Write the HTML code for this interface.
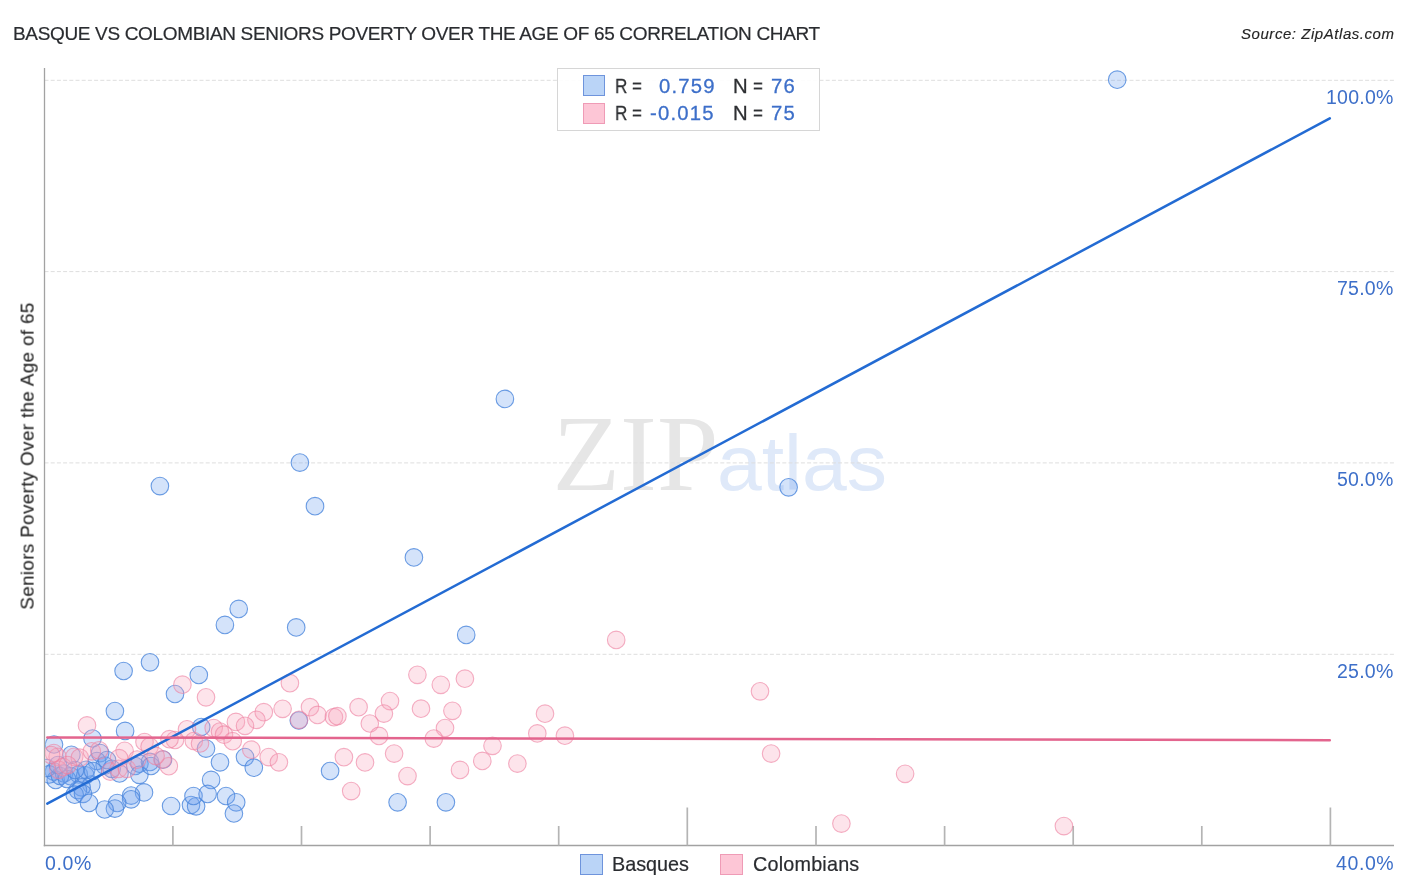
<!DOCTYPE html>
<html><head><meta charset="utf-8"><title>Basque vs Colombian Seniors Poverty Over the Age of 65 Correlation Chart</title>
<style>
html,body{margin:0;padding:0;background:#fff;}
body{width:1406px;height:892px;position:relative;overflow:hidden;font-family:"Liberation Sans",sans-serif;}
.t{position:absolute;white-space:nowrap;line-height:1;will-change:transform;}
#title{left:12.5px;top:23.8px;font-size:19px;color:#2a2c30;letter-spacing:-0.34px;-webkit-text-stroke:0.2px #2a2c30;}
#src{right:11.5px;top:25.5px;font-size:15px;font-style:italic;color:#262626;letter-spacing:0.55px;-webkit-text-stroke:0.15px #262626;}
.yl{color:#3d6fc9;font-size:19.5px;right:12.2px;letter-spacing:0.25px;}
.xl{color:#3d6fc9;font-size:19.5px;top:854.2px;letter-spacing:0.6px;}
#ylab{left:27.6px;top:455.6px;font-size:18.8px;letter-spacing:0.38px;color:#262626;-webkit-text-stroke:0.12px #262626;transform:translate(-50%,-50%) rotate(-90deg);transform-origin:center;}
#leg{position:absolute;left:557px;top:67.5px;width:260.5px;height:61px;border:1px solid #d6d6d6;background:rgba(255,255,255,0.9);}
.sw{position:absolute;width:20px;height:19px;border:1px solid;}
.sb{background:#bad4f7;border-color:#6e94dc;}
.sp{background:#fdc6d6;border-color:#ef9bb6;}
.lt{font-size:20.3px;color:#2e3033;-webkit-text-stroke:0.3px #2e3033;}
.lv{font-size:20.3px;color:#3d6fc9;letter-spacing:1.2px;-webkit-text-stroke:0.3px #3d6fc9;}
.sx{transform:scaleX(0.84);transform-origin:left center;}
.bl{font-size:19.8px;color:#2a2c30;top:854.5px;-webkit-text-stroke:0.2px #2a2c30;}
</style></head><body>
<svg width="1406" height="892" viewBox="0 0 1406 892" style="position:absolute;left:0;top:0">
<text x="552.5" y="490.4" font-family="Liberation Serif, serif" font-size="107" fill="#e6e6e6" textLength="166" lengthAdjust="spacingAndGlyphs">ZIP</text>
<text x="717" y="490.4" font-family="Liberation Sans, sans-serif" font-size="78" fill="#dfe9f9" textLength="170" lengthAdjust="spacingAndGlyphs">atlas</text>
<line x1="44.5" y1="80.3" x2="1394" y2="80.3" stroke="#dedede" stroke-width="1" stroke-dasharray="4,2.2"/>
<line x1="44.5" y1="271.6" x2="1394" y2="271.6" stroke="#dedede" stroke-width="1" stroke-dasharray="4,2.2"/>
<line x1="44.5" y1="462.9" x2="1394" y2="462.9" stroke="#dedede" stroke-width="1" stroke-dasharray="4,2.2"/>
<line x1="44.5" y1="654.3" x2="1394" y2="654.3" stroke="#dedede" stroke-width="1" stroke-dasharray="4,2.2"/>
<line x1="44.5" y1="68" x2="44.5" y2="846.2" stroke="#a2a2a2" stroke-width="1.3"/>
<line x1="43.7" y1="845.5" x2="1394" y2="845.5" stroke="#a2a2a2" stroke-width="1.4"/>
<line x1="172.9" y1="826" x2="172.9" y2="845.5" stroke="#b4b4b4" stroke-width="1.7"/>
<line x1="301.5" y1="826" x2="301.5" y2="845.5" stroke="#b4b4b4" stroke-width="1.7"/>
<line x1="430.1" y1="826" x2="430.1" y2="845.5" stroke="#b4b4b4" stroke-width="1.7"/>
<line x1="558.7" y1="826" x2="558.7" y2="845.5" stroke="#b4b4b4" stroke-width="1.7"/>
<line x1="687.3" y1="807.5" x2="687.3" y2="845.5" stroke="#b4b4b4" stroke-width="1.7"/>
<line x1="816.0" y1="826" x2="816.0" y2="845.5" stroke="#b4b4b4" stroke-width="1.7"/>
<line x1="944.6" y1="826" x2="944.6" y2="845.5" stroke="#b4b4b4" stroke-width="1.7"/>
<line x1="1073.2" y1="826" x2="1073.2" y2="845.5" stroke="#b4b4b4" stroke-width="1.7"/>
<line x1="1201.8" y1="826" x2="1201.8" y2="845.5" stroke="#b4b4b4" stroke-width="1.7"/>
<line x1="1330.4" y1="807.5" x2="1330.4" y2="845.5" stroke="#b4b4b4" stroke-width="1.7"/>
<defs><clipPath id="c"><rect x="45.3" y="60" width="1349.5" height="784.7"/></clipPath></defs>
<g clip-path="url(#c)">
<circle cx="1117.2" cy="79.7" r="8.8" fill="#6fa3ee" fill-opacity="0.3" stroke="#4a86dc" stroke-opacity="0.8" stroke-width="1.1"/>
<circle cx="504.9" cy="398.9" r="8.8" fill="#6fa3ee" fill-opacity="0.3" stroke="#4a86dc" stroke-opacity="0.8" stroke-width="1.1"/>
<circle cx="299.9" cy="462.6" r="8.8" fill="#6fa3ee" fill-opacity="0.3" stroke="#4a86dc" stroke-opacity="0.8" stroke-width="1.1"/>
<circle cx="159.9" cy="486.1" r="8.8" fill="#6fa3ee" fill-opacity="0.3" stroke="#4a86dc" stroke-opacity="0.8" stroke-width="1.1"/>
<circle cx="315" cy="506.2" r="8.8" fill="#6fa3ee" fill-opacity="0.3" stroke="#4a86dc" stroke-opacity="0.8" stroke-width="1.1"/>
<circle cx="413.9" cy="557.4" r="8.8" fill="#6fa3ee" fill-opacity="0.3" stroke="#4a86dc" stroke-opacity="0.8" stroke-width="1.1"/>
<circle cx="788.6" cy="487.3" r="8.8" fill="#6fa3ee" fill-opacity="0.3" stroke="#4a86dc" stroke-opacity="0.8" stroke-width="1.1"/>
<circle cx="238.7" cy="608.9" r="8.8" fill="#6fa3ee" fill-opacity="0.3" stroke="#4a86dc" stroke-opacity="0.8" stroke-width="1.1"/>
<circle cx="224.9" cy="624.9" r="8.8" fill="#6fa3ee" fill-opacity="0.3" stroke="#4a86dc" stroke-opacity="0.8" stroke-width="1.1"/>
<circle cx="296.2" cy="627.4" r="8.8" fill="#6fa3ee" fill-opacity="0.3" stroke="#4a86dc" stroke-opacity="0.8" stroke-width="1.1"/>
<circle cx="466.2" cy="634.9" r="8.8" fill="#6fa3ee" fill-opacity="0.3" stroke="#4a86dc" stroke-opacity="0.8" stroke-width="1.1"/>
<circle cx="150" cy="662.3" r="8.8" fill="#6fa3ee" fill-opacity="0.3" stroke="#4a86dc" stroke-opacity="0.8" stroke-width="1.1"/>
<circle cx="123.6" cy="671" r="8.8" fill="#6fa3ee" fill-opacity="0.3" stroke="#4a86dc" stroke-opacity="0.8" stroke-width="1.1"/>
<circle cx="198.8" cy="675" r="8.8" fill="#6fa3ee" fill-opacity="0.3" stroke="#4a86dc" stroke-opacity="0.8" stroke-width="1.1"/>
<circle cx="175" cy="694" r="8.8" fill="#6fa3ee" fill-opacity="0.3" stroke="#4a86dc" stroke-opacity="0.8" stroke-width="1.1"/>
<circle cx="114.9" cy="711.1" r="8.8" fill="#6fa3ee" fill-opacity="0.3" stroke="#4a86dc" stroke-opacity="0.8" stroke-width="1.1"/>
<circle cx="125.1" cy="730.9" r="8.8" fill="#6fa3ee" fill-opacity="0.3" stroke="#4a86dc" stroke-opacity="0.8" stroke-width="1.1"/>
<circle cx="92.5" cy="738.5" r="8.8" fill="#6fa3ee" fill-opacity="0.3" stroke="#4a86dc" stroke-opacity="0.8" stroke-width="1.1"/>
<circle cx="54" cy="744.5" r="8.8" fill="#6fa3ee" fill-opacity="0.3" stroke="#4a86dc" stroke-opacity="0.8" stroke-width="1.1"/>
<circle cx="201.2" cy="727" r="8.8" fill="#6fa3ee" fill-opacity="0.3" stroke="#4a86dc" stroke-opacity="0.8" stroke-width="1.1"/>
<circle cx="298.8" cy="720.5" r="8.8" fill="#6fa3ee" fill-opacity="0.3" stroke="#4a86dc" stroke-opacity="0.8" stroke-width="1.1"/>
<circle cx="206" cy="748.6" r="8.8" fill="#6fa3ee" fill-opacity="0.3" stroke="#4a86dc" stroke-opacity="0.8" stroke-width="1.1"/>
<circle cx="220" cy="762.3" r="8.8" fill="#6fa3ee" fill-opacity="0.3" stroke="#4a86dc" stroke-opacity="0.8" stroke-width="1.1"/>
<circle cx="245" cy="757.1" r="8.8" fill="#6fa3ee" fill-opacity="0.3" stroke="#4a86dc" stroke-opacity="0.8" stroke-width="1.1"/>
<circle cx="253.8" cy="767.7" r="8.8" fill="#6fa3ee" fill-opacity="0.3" stroke="#4a86dc" stroke-opacity="0.8" stroke-width="1.1"/>
<circle cx="330.1" cy="771" r="8.8" fill="#6fa3ee" fill-opacity="0.3" stroke="#4a86dc" stroke-opacity="0.8" stroke-width="1.1"/>
<circle cx="211.1" cy="779.9" r="8.8" fill="#6fa3ee" fill-opacity="0.3" stroke="#4a86dc" stroke-opacity="0.8" stroke-width="1.1"/>
<circle cx="397.6" cy="802.3" r="8.8" fill="#6fa3ee" fill-opacity="0.3" stroke="#4a86dc" stroke-opacity="0.8" stroke-width="1.1"/>
<circle cx="445.9" cy="802.3" r="8.8" fill="#6fa3ee" fill-opacity="0.3" stroke="#4a86dc" stroke-opacity="0.8" stroke-width="1.1"/>
<circle cx="71.4" cy="754.8" r="8.8" fill="#6fa3ee" fill-opacity="0.3" stroke="#4a86dc" stroke-opacity="0.8" stroke-width="1.1"/>
<circle cx="100.1" cy="753.1" r="8.8" fill="#6fa3ee" fill-opacity="0.3" stroke="#4a86dc" stroke-opacity="0.8" stroke-width="1.1"/>
<circle cx="96.9" cy="761" r="8.8" fill="#6fa3ee" fill-opacity="0.3" stroke="#4a86dc" stroke-opacity="0.8" stroke-width="1.1"/>
<circle cx="104.7" cy="765.6" r="8.8" fill="#6fa3ee" fill-opacity="0.3" stroke="#4a86dc" stroke-opacity="0.8" stroke-width="1.1"/>
<circle cx="111.7" cy="768.8" r="8.8" fill="#6fa3ee" fill-opacity="0.3" stroke="#4a86dc" stroke-opacity="0.8" stroke-width="1.1"/>
<circle cx="135.2" cy="766" r="8.8" fill="#6fa3ee" fill-opacity="0.3" stroke="#4a86dc" stroke-opacity="0.8" stroke-width="1.1"/>
<circle cx="139.4" cy="763.7" r="8.8" fill="#6fa3ee" fill-opacity="0.3" stroke="#4a86dc" stroke-opacity="0.8" stroke-width="1.1"/>
<circle cx="139.4" cy="774.8" r="8.8" fill="#6fa3ee" fill-opacity="0.3" stroke="#4a86dc" stroke-opacity="0.8" stroke-width="1.1"/>
<circle cx="150" cy="761.9" r="8.8" fill="#6fa3ee" fill-opacity="0.3" stroke="#4a86dc" stroke-opacity="0.8" stroke-width="1.1"/>
<circle cx="151" cy="766" r="8.8" fill="#6fa3ee" fill-opacity="0.3" stroke="#4a86dc" stroke-opacity="0.8" stroke-width="1.1"/>
<circle cx="163" cy="759.6" r="8.8" fill="#6fa3ee" fill-opacity="0.3" stroke="#4a86dc" stroke-opacity="0.8" stroke-width="1.1"/>
<circle cx="119.5" cy="773.5" r="8.8" fill="#6fa3ee" fill-opacity="0.3" stroke="#4a86dc" stroke-opacity="0.8" stroke-width="1.1"/>
<circle cx="53.9" cy="771.6" r="8.8" fill="#6fa3ee" fill-opacity="0.3" stroke="#4a86dc" stroke-opacity="0.8" stroke-width="1.1"/>
<circle cx="55.7" cy="779.9" r="8.8" fill="#6fa3ee" fill-opacity="0.3" stroke="#4a86dc" stroke-opacity="0.8" stroke-width="1.1"/>
<circle cx="49.2" cy="774.4" r="8.8" fill="#6fa3ee" fill-opacity="0.3" stroke="#4a86dc" stroke-opacity="0.8" stroke-width="1.1"/>
<circle cx="64" cy="773.5" r="8.8" fill="#6fa3ee" fill-opacity="0.3" stroke="#4a86dc" stroke-opacity="0.8" stroke-width="1.1"/>
<circle cx="70.5" cy="776.2" r="8.8" fill="#6fa3ee" fill-opacity="0.3" stroke="#4a86dc" stroke-opacity="0.8" stroke-width="1.1"/>
<circle cx="78.8" cy="774.4" r="8.8" fill="#6fa3ee" fill-opacity="0.3" stroke="#4a86dc" stroke-opacity="0.8" stroke-width="1.1"/>
<circle cx="85.3" cy="775.3" r="8.8" fill="#6fa3ee" fill-opacity="0.3" stroke="#4a86dc" stroke-opacity="0.8" stroke-width="1.1"/>
<circle cx="86.2" cy="769.8" r="8.8" fill="#6fa3ee" fill-opacity="0.3" stroke="#4a86dc" stroke-opacity="0.8" stroke-width="1.1"/>
<circle cx="91.3" cy="784.6" r="8.8" fill="#6fa3ee" fill-opacity="0.3" stroke="#4a86dc" stroke-opacity="0.8" stroke-width="1.1"/>
<circle cx="81.6" cy="787.3" r="8.8" fill="#6fa3ee" fill-opacity="0.3" stroke="#4a86dc" stroke-opacity="0.8" stroke-width="1.1"/>
<circle cx="77.9" cy="790.1" r="8.8" fill="#6fa3ee" fill-opacity="0.3" stroke="#4a86dc" stroke-opacity="0.8" stroke-width="1.1"/>
<circle cx="74.7" cy="794.7" r="8.8" fill="#6fa3ee" fill-opacity="0.3" stroke="#4a86dc" stroke-opacity="0.8" stroke-width="1.1"/>
<circle cx="83" cy="793.8" r="8.8" fill="#6fa3ee" fill-opacity="0.3" stroke="#4a86dc" stroke-opacity="0.8" stroke-width="1.1"/>
<circle cx="89" cy="803" r="8.8" fill="#6fa3ee" fill-opacity="0.3" stroke="#4a86dc" stroke-opacity="0.8" stroke-width="1.1"/>
<circle cx="144" cy="792.4" r="8.8" fill="#6fa3ee" fill-opacity="0.3" stroke="#4a86dc" stroke-opacity="0.8" stroke-width="1.1"/>
<circle cx="131.1" cy="795.6" r="8.8" fill="#6fa3ee" fill-opacity="0.3" stroke="#4a86dc" stroke-opacity="0.8" stroke-width="1.1"/>
<circle cx="131.1" cy="799.3" r="8.8" fill="#6fa3ee" fill-opacity="0.3" stroke="#4a86dc" stroke-opacity="0.8" stroke-width="1.1"/>
<circle cx="117.2" cy="803" r="8.8" fill="#6fa3ee" fill-opacity="0.3" stroke="#4a86dc" stroke-opacity="0.8" stroke-width="1.1"/>
<circle cx="114.9" cy="808.6" r="8.8" fill="#6fa3ee" fill-opacity="0.3" stroke="#4a86dc" stroke-opacity="0.8" stroke-width="1.1"/>
<circle cx="104.7" cy="809.5" r="8.8" fill="#6fa3ee" fill-opacity="0.3" stroke="#4a86dc" stroke-opacity="0.8" stroke-width="1.1"/>
<circle cx="60" cy="776" r="8.8" fill="#6fa3ee" fill-opacity="0.3" stroke="#4a86dc" stroke-opacity="0.8" stroke-width="1.1"/>
<circle cx="67" cy="779" r="8.8" fill="#6fa3ee" fill-opacity="0.3" stroke="#4a86dc" stroke-opacity="0.8" stroke-width="1.1"/>
<circle cx="47" cy="768" r="8.8" fill="#6fa3ee" fill-opacity="0.3" stroke="#4a86dc" stroke-opacity="0.8" stroke-width="1.1"/>
<circle cx="58" cy="765" r="8.8" fill="#6fa3ee" fill-opacity="0.3" stroke="#4a86dc" stroke-opacity="0.8" stroke-width="1.1"/>
<circle cx="75" cy="770" r="8.8" fill="#6fa3ee" fill-opacity="0.3" stroke="#4a86dc" stroke-opacity="0.8" stroke-width="1.1"/>
<circle cx="93" cy="771" r="8.8" fill="#6fa3ee" fill-opacity="0.3" stroke="#4a86dc" stroke-opacity="0.8" stroke-width="1.1"/>
<circle cx="107" cy="760" r="8.8" fill="#6fa3ee" fill-opacity="0.3" stroke="#4a86dc" stroke-opacity="0.8" stroke-width="1.1"/>
<circle cx="171.1" cy="806" r="8.8" fill="#6fa3ee" fill-opacity="0.3" stroke="#4a86dc" stroke-opacity="0.8" stroke-width="1.1"/>
<circle cx="191" cy="805" r="8.8" fill="#6fa3ee" fill-opacity="0.3" stroke="#4a86dc" stroke-opacity="0.8" stroke-width="1.1"/>
<circle cx="196.1" cy="806.3" r="8.8" fill="#6fa3ee" fill-opacity="0.3" stroke="#4a86dc" stroke-opacity="0.8" stroke-width="1.1"/>
<circle cx="193.5" cy="796" r="8.8" fill="#6fa3ee" fill-opacity="0.3" stroke="#4a86dc" stroke-opacity="0.8" stroke-width="1.1"/>
<circle cx="207.6" cy="793.9" r="8.8" fill="#6fa3ee" fill-opacity="0.3" stroke="#4a86dc" stroke-opacity="0.8" stroke-width="1.1"/>
<circle cx="226" cy="796" r="8.8" fill="#6fa3ee" fill-opacity="0.3" stroke="#4a86dc" stroke-opacity="0.8" stroke-width="1.1"/>
<circle cx="236.2" cy="802.3" r="8.8" fill="#6fa3ee" fill-opacity="0.3" stroke="#4a86dc" stroke-opacity="0.8" stroke-width="1.1"/>
<circle cx="233.9" cy="813.5" r="8.8" fill="#6fa3ee" fill-opacity="0.3" stroke="#4a86dc" stroke-opacity="0.8" stroke-width="1.1"/>
<circle cx="616.2" cy="639.9" r="8.8" fill="#f7a6be" fill-opacity="0.3" stroke="#ee7f9f" stroke-opacity="0.62" stroke-width="1.1"/>
<circle cx="417.4" cy="674.8" r="8.8" fill="#f7a6be" fill-opacity="0.3" stroke="#ee7f9f" stroke-opacity="0.62" stroke-width="1.1"/>
<circle cx="440.8" cy="684.8" r="8.8" fill="#f7a6be" fill-opacity="0.3" stroke="#ee7f9f" stroke-opacity="0.62" stroke-width="1.1"/>
<circle cx="464.9" cy="678.7" r="8.8" fill="#f7a6be" fill-opacity="0.3" stroke="#ee7f9f" stroke-opacity="0.62" stroke-width="1.1"/>
<circle cx="182.4" cy="684.7" r="8.8" fill="#f7a6be" fill-opacity="0.3" stroke="#ee7f9f" stroke-opacity="0.62" stroke-width="1.1"/>
<circle cx="206" cy="697.3" r="8.8" fill="#f7a6be" fill-opacity="0.3" stroke="#ee7f9f" stroke-opacity="0.62" stroke-width="1.1"/>
<circle cx="289.9" cy="683.2" r="8.8" fill="#f7a6be" fill-opacity="0.3" stroke="#ee7f9f" stroke-opacity="0.62" stroke-width="1.1"/>
<circle cx="760" cy="691.3" r="8.8" fill="#f7a6be" fill-opacity="0.3" stroke="#ee7f9f" stroke-opacity="0.62" stroke-width="1.1"/>
<circle cx="771.1" cy="753.6" r="8.8" fill="#f7a6be" fill-opacity="0.3" stroke="#ee7f9f" stroke-opacity="0.62" stroke-width="1.1"/>
<circle cx="905.1" cy="773.8" r="8.8" fill="#f7a6be" fill-opacity="0.3" stroke="#ee7f9f" stroke-opacity="0.62" stroke-width="1.1"/>
<circle cx="841.4" cy="823.6" r="8.8" fill="#f7a6be" fill-opacity="0.3" stroke="#ee7f9f" stroke-opacity="0.62" stroke-width="1.1"/>
<circle cx="1063.9" cy="826.1" r="8.8" fill="#f7a6be" fill-opacity="0.3" stroke="#ee7f9f" stroke-opacity="0.62" stroke-width="1.1"/>
<circle cx="390" cy="701.1" r="8.8" fill="#f7a6be" fill-opacity="0.3" stroke="#ee7f9f" stroke-opacity="0.62" stroke-width="1.1"/>
<circle cx="383.9" cy="713.6" r="8.8" fill="#f7a6be" fill-opacity="0.3" stroke="#ee7f9f" stroke-opacity="0.62" stroke-width="1.1"/>
<circle cx="358.6" cy="707.2" r="8.8" fill="#f7a6be" fill-opacity="0.3" stroke="#ee7f9f" stroke-opacity="0.62" stroke-width="1.1"/>
<circle cx="421" cy="708.7" r="8.8" fill="#f7a6be" fill-opacity="0.3" stroke="#ee7f9f" stroke-opacity="0.62" stroke-width="1.1"/>
<circle cx="452.4" cy="710.8" r="8.8" fill="#f7a6be" fill-opacity="0.3" stroke="#ee7f9f" stroke-opacity="0.62" stroke-width="1.1"/>
<circle cx="445" cy="728" r="8.8" fill="#f7a6be" fill-opacity="0.3" stroke="#ee7f9f" stroke-opacity="0.62" stroke-width="1.1"/>
<circle cx="433.8" cy="738.6" r="8.8" fill="#f7a6be" fill-opacity="0.3" stroke="#ee7f9f" stroke-opacity="0.62" stroke-width="1.1"/>
<circle cx="369.8" cy="723.5" r="8.8" fill="#f7a6be" fill-opacity="0.3" stroke="#ee7f9f" stroke-opacity="0.62" stroke-width="1.1"/>
<circle cx="379" cy="735.9" r="8.8" fill="#f7a6be" fill-opacity="0.3" stroke="#ee7f9f" stroke-opacity="0.62" stroke-width="1.1"/>
<circle cx="310" cy="707.2" r="8.8" fill="#f7a6be" fill-opacity="0.3" stroke="#ee7f9f" stroke-opacity="0.62" stroke-width="1.1"/>
<circle cx="317.5" cy="714.9" r="8.8" fill="#f7a6be" fill-opacity="0.3" stroke="#ee7f9f" stroke-opacity="0.62" stroke-width="1.1"/>
<circle cx="333.9" cy="717.2" r="8.8" fill="#f7a6be" fill-opacity="0.3" stroke="#ee7f9f" stroke-opacity="0.62" stroke-width="1.1"/>
<circle cx="337.4" cy="716.2" r="8.8" fill="#f7a6be" fill-opacity="0.3" stroke="#ee7f9f" stroke-opacity="0.62" stroke-width="1.1"/>
<circle cx="394.1" cy="753.6" r="8.8" fill="#f7a6be" fill-opacity="0.3" stroke="#ee7f9f" stroke-opacity="0.62" stroke-width="1.1"/>
<circle cx="343.9" cy="757.2" r="8.8" fill="#f7a6be" fill-opacity="0.3" stroke="#ee7f9f" stroke-opacity="0.62" stroke-width="1.1"/>
<circle cx="365" cy="762.4" r="8.8" fill="#f7a6be" fill-opacity="0.3" stroke="#ee7f9f" stroke-opacity="0.62" stroke-width="1.1"/>
<circle cx="407.5" cy="776.1" r="8.8" fill="#f7a6be" fill-opacity="0.3" stroke="#ee7f9f" stroke-opacity="0.62" stroke-width="1.1"/>
<circle cx="351.2" cy="791.1" r="8.8" fill="#f7a6be" fill-opacity="0.3" stroke="#ee7f9f" stroke-opacity="0.62" stroke-width="1.1"/>
<circle cx="460" cy="769.9" r="8.8" fill="#f7a6be" fill-opacity="0.3" stroke="#ee7f9f" stroke-opacity="0.62" stroke-width="1.1"/>
<circle cx="545" cy="713.7" r="8.8" fill="#f7a6be" fill-opacity="0.3" stroke="#ee7f9f" stroke-opacity="0.62" stroke-width="1.1"/>
<circle cx="537.3" cy="733.4" r="8.8" fill="#f7a6be" fill-opacity="0.3" stroke="#ee7f9f" stroke-opacity="0.62" stroke-width="1.1"/>
<circle cx="564.9" cy="735.7" r="8.8" fill="#f7a6be" fill-opacity="0.3" stroke="#ee7f9f" stroke-opacity="0.62" stroke-width="1.1"/>
<circle cx="492.5" cy="745.8" r="8.8" fill="#f7a6be" fill-opacity="0.3" stroke="#ee7f9f" stroke-opacity="0.62" stroke-width="1.1"/>
<circle cx="482.3" cy="760.9" r="8.8" fill="#f7a6be" fill-opacity="0.3" stroke="#ee7f9f" stroke-opacity="0.62" stroke-width="1.1"/>
<circle cx="517.4" cy="763.6" r="8.8" fill="#f7a6be" fill-opacity="0.3" stroke="#ee7f9f" stroke-opacity="0.62" stroke-width="1.1"/>
<circle cx="87" cy="725.4" r="8.8" fill="#f7a6be" fill-opacity="0.3" stroke="#ee7f9f" stroke-opacity="0.62" stroke-width="1.1"/>
<circle cx="282.6" cy="708.8" r="8.8" fill="#f7a6be" fill-opacity="0.3" stroke="#ee7f9f" stroke-opacity="0.62" stroke-width="1.1"/>
<circle cx="263.8" cy="712.2" r="8.8" fill="#f7a6be" fill-opacity="0.3" stroke="#ee7f9f" stroke-opacity="0.62" stroke-width="1.1"/>
<circle cx="256.4" cy="719.8" r="8.8" fill="#f7a6be" fill-opacity="0.3" stroke="#ee7f9f" stroke-opacity="0.62" stroke-width="1.1"/>
<circle cx="235.9" cy="721.9" r="8.8" fill="#f7a6be" fill-opacity="0.3" stroke="#ee7f9f" stroke-opacity="0.62" stroke-width="1.1"/>
<circle cx="245" cy="725.8" r="8.8" fill="#f7a6be" fill-opacity="0.3" stroke="#ee7f9f" stroke-opacity="0.62" stroke-width="1.1"/>
<circle cx="299.1" cy="719.8" r="8.8" fill="#f7a6be" fill-opacity="0.3" stroke="#ee7f9f" stroke-opacity="0.62" stroke-width="1.1"/>
<circle cx="187" cy="729.3" r="8.8" fill="#f7a6be" fill-opacity="0.3" stroke="#ee7f9f" stroke-opacity="0.62" stroke-width="1.1"/>
<circle cx="213.7" cy="728.1" r="8.8" fill="#f7a6be" fill-opacity="0.3" stroke="#ee7f9f" stroke-opacity="0.62" stroke-width="1.1"/>
<circle cx="220" cy="731.5" r="8.8" fill="#f7a6be" fill-opacity="0.3" stroke="#ee7f9f" stroke-opacity="0.62" stroke-width="1.1"/>
<circle cx="224" cy="734.7" r="8.8" fill="#f7a6be" fill-opacity="0.3" stroke="#ee7f9f" stroke-opacity="0.62" stroke-width="1.1"/>
<circle cx="175" cy="740" r="8.8" fill="#f7a6be" fill-opacity="0.3" stroke="#ee7f9f" stroke-opacity="0.62" stroke-width="1.1"/>
<circle cx="193.8" cy="741" r="8.8" fill="#f7a6be" fill-opacity="0.3" stroke="#ee7f9f" stroke-opacity="0.62" stroke-width="1.1"/>
<circle cx="200" cy="743.5" r="8.8" fill="#f7a6be" fill-opacity="0.3" stroke="#ee7f9f" stroke-opacity="0.62" stroke-width="1.1"/>
<circle cx="232.7" cy="741.2" r="8.8" fill="#f7a6be" fill-opacity="0.3" stroke="#ee7f9f" stroke-opacity="0.62" stroke-width="1.1"/>
<circle cx="251.3" cy="749.7" r="8.8" fill="#f7a6be" fill-opacity="0.3" stroke="#ee7f9f" stroke-opacity="0.62" stroke-width="1.1"/>
<circle cx="268.7" cy="757.1" r="8.8" fill="#f7a6be" fill-opacity="0.3" stroke="#ee7f9f" stroke-opacity="0.62" stroke-width="1.1"/>
<circle cx="278.9" cy="762.3" r="8.8" fill="#f7a6be" fill-opacity="0.3" stroke="#ee7f9f" stroke-opacity="0.62" stroke-width="1.1"/>
<circle cx="168.8" cy="766.2" r="8.8" fill="#f7a6be" fill-opacity="0.3" stroke="#ee7f9f" stroke-opacity="0.62" stroke-width="1.1"/>
<circle cx="162.5" cy="759.4" r="8.8" fill="#f7a6be" fill-opacity="0.3" stroke="#ee7f9f" stroke-opacity="0.62" stroke-width="1.1"/>
<circle cx="124.6" cy="750.8" r="8.8" fill="#f7a6be" fill-opacity="0.3" stroke="#ee7f9f" stroke-opacity="0.62" stroke-width="1.1"/>
<circle cx="119.1" cy="758.2" r="8.8" fill="#f7a6be" fill-opacity="0.3" stroke="#ee7f9f" stroke-opacity="0.62" stroke-width="1.1"/>
<circle cx="144.5" cy="742" r="8.8" fill="#f7a6be" fill-opacity="0.3" stroke="#ee7f9f" stroke-opacity="0.62" stroke-width="1.1"/>
<circle cx="149.6" cy="746.6" r="8.8" fill="#f7a6be" fill-opacity="0.3" stroke="#ee7f9f" stroke-opacity="0.62" stroke-width="1.1"/>
<circle cx="53.9" cy="753.1" r="8.8" fill="#f7a6be" fill-opacity="0.3" stroke="#ee7f9f" stroke-opacity="0.62" stroke-width="1.1"/>
<circle cx="57.6" cy="756.8" r="8.8" fill="#f7a6be" fill-opacity="0.3" stroke="#ee7f9f" stroke-opacity="0.62" stroke-width="1.1"/>
<circle cx="51.1" cy="755" r="8.8" fill="#f7a6be" fill-opacity="0.3" stroke="#ee7f9f" stroke-opacity="0.62" stroke-width="1.1"/>
<circle cx="74.2" cy="756.8" r="8.8" fill="#f7a6be" fill-opacity="0.3" stroke="#ee7f9f" stroke-opacity="0.62" stroke-width="1.1"/>
<circle cx="79.8" cy="757.7" r="8.8" fill="#f7a6be" fill-opacity="0.3" stroke="#ee7f9f" stroke-opacity="0.62" stroke-width="1.1"/>
<circle cx="91.8" cy="751.3" r="8.8" fill="#f7a6be" fill-opacity="0.3" stroke="#ee7f9f" stroke-opacity="0.62" stroke-width="1.1"/>
<circle cx="99.2" cy="750.3" r="8.8" fill="#f7a6be" fill-opacity="0.3" stroke="#ee7f9f" stroke-opacity="0.62" stroke-width="1.1"/>
<circle cx="63.1" cy="767" r="8.8" fill="#f7a6be" fill-opacity="0.3" stroke="#ee7f9f" stroke-opacity="0.62" stroke-width="1.1"/>
<circle cx="58.5" cy="769.8" r="8.8" fill="#f7a6be" fill-opacity="0.3" stroke="#ee7f9f" stroke-opacity="0.62" stroke-width="1.1"/>
<circle cx="67.7" cy="765.1" r="8.8" fill="#f7a6be" fill-opacity="0.3" stroke="#ee7f9f" stroke-opacity="0.62" stroke-width="1.1"/>
<circle cx="110.3" cy="771.6" r="8.8" fill="#f7a6be" fill-opacity="0.3" stroke="#ee7f9f" stroke-opacity="0.62" stroke-width="1.1"/>
<circle cx="118.6" cy="768.8" r="8.8" fill="#f7a6be" fill-opacity="0.3" stroke="#ee7f9f" stroke-opacity="0.62" stroke-width="1.1"/>
<circle cx="126.9" cy="768.8" r="8.8" fill="#f7a6be" fill-opacity="0.3" stroke="#ee7f9f" stroke-opacity="0.62" stroke-width="1.1"/>
<circle cx="137.1" cy="759.6" r="8.8" fill="#f7a6be" fill-opacity="0.3" stroke="#ee7f9f" stroke-opacity="0.62" stroke-width="1.1"/>
<circle cx="155.6" cy="755.9" r="8.8" fill="#f7a6be" fill-opacity="0.3" stroke="#ee7f9f" stroke-opacity="0.62" stroke-width="1.1"/>
<circle cx="169.5" cy="739.2" r="8.8" fill="#f7a6be" fill-opacity="0.3" stroke="#ee7f9f" stroke-opacity="0.62" stroke-width="1.1"/>
</g>
<line x1="47.3" y1="803.6" x2="1329.8" y2="118.4" stroke="#236bd3" stroke-width="2.5" stroke-linecap="round"/>
<line x1="47.3" y1="737.4" x2="1329.8" y2="740.2" stroke="#e3658e" stroke-width="2.5" stroke-linecap="round"/>
</svg>
<div class="t" id="title">BASQUE VS COLOMBIAN SENIORS POVERTY OVER THE AGE OF 65 CORRELATION CHART</div>
<div class="t" id="src">Source: ZipAtlas.com</div>
<div class="t yl" style="top:88px">100.0%</div>
<div class="t yl" style="top:279px">75.0%</div>
<div class="t yl" style="top:470px">50.0%</div>
<div class="t yl" style="top:662px">25.0%</div>
<div class="t xl" style="left:45px">0.0%</div>
<div class="t xl" style="right:11.8px">40.0%</div>
<div class="t" id="ylab">Seniors Poverty Over the Age of 65</div>
<div id="leg"></div>
<div class="sw sb" style="left:582.5px;top:75px"></div>
<div class="sw sp" style="left:582.5px;top:103px"></div>
<div class="t lt sx" style="left:614.7px;top:76.1px">R</div>
<div class="t lt sx" style="left:632.3px;top:76.1px">=</div>
<div class="t lv" style="left:658.8px;top:76.1px">0.759</div>
<div class="t lt" style="left:733.2px;top:76.1px">N</div>
<div class="t lt sx" style="left:752.8px;top:76.1px">=</div>
<div class="t lv" style="left:771px;top:76.1px">76</div>
<div class="t lt sx" style="left:614.7px;top:103.2px">R</div>
<div class="t lt sx" style="left:632.3px;top:103.2px">=</div>
<div class="t lv" style="left:649.6px;top:103.2px">-0.015</div>
<div class="t lt" style="left:733.2px;top:103.2px">N</div>
<div class="t lt sx" style="left:752.8px;top:103.2px">=</div>
<div class="t lv" style="left:771px;top:103.2px">75</div>
<div class="sw sb" style="left:580px;top:853.7px;width:21px"></div>
<div class="t bl" style="left:612px">Basques</div>
<div class="sw sp" style="left:720px;top:853.7px;width:21px"></div>
<div class="t bl" style="left:752.6px;letter-spacing:0.2px">Colombians</div>
</body></html>
